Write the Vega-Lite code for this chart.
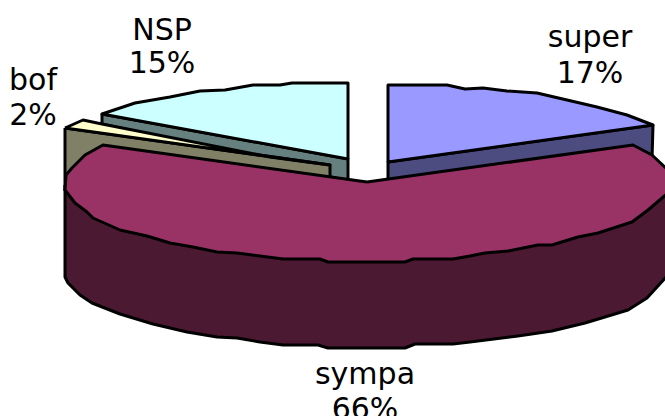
{"$schema":"https://vega.github.io/schema/vega-lite/v6.json","width":665,"height":416,"padding":0,"autosize":{"type":"none"},"background":"white","config":{"view":{"stroke":null}},
"datasets":{"shapes":[
{"part":"NSP side","i":1,"x":102,"y":114},{"part":"NSP side","i":2,"x":348,"y":159},{"part":"NSP side","i":3,"x":348,"y":181},{"part":"NSP side","i":4,"x":102,"y":124},{"part":"NSP side","i":5,"x":102,"y":114},
{"part":"NSP top","i":1,"x":348,"y":159},{"part":"NSP top","i":2,"x":348,"y":83},{"part":"NSP top","i":3,"x":292,"y":83},{"part":"NSP top","i":4,"x":280,"y":85},{"part":"NSP top","i":5,"x":253,"y":85},{"part":"NSP top","i":6,"x":225,"y":90},{"part":"NSP top","i":7,"x":200,"y":91},{"part":"NSP top","i":8,"x":170,"y":97},{"part":"NSP top","i":9,"x":135,"y":103},{"part":"NSP top","i":10,"x":102,"y":114},{"part":"NSP top","i":11,"x":348,"y":159},
{"part":"bof side","i":1,"x":65,"y":128},{"part":"bof side","i":2,"x":330,"y":165},{"part":"bof side","i":3,"x":330,"y":178},{"part":"bof side","i":4,"x":103,"y":146},{"part":"bof side","i":5,"x":65,"y":190},{"part":"bof side","i":6,"x":65,"y":128},
{"part":"bof top","i":1,"x":65,"y":128},{"part":"bof top","i":2,"x":83,"y":120},{"part":"bof top","i":3,"x":102,"y":124},{"part":"bof top","i":4,"x":270,"y":157},{"part":"bof top","i":5,"x":330,"y":165},{"part":"bof top","i":6,"x":65,"y":128},
{"part":"super side","i":1,"x":653,"y":125},{"part":"super side","i":2,"x":652,"y":160},{"part":"super side","i":3,"x":388,"y":180},{"part":"super side","i":4,"x":388,"y":162},{"part":"super side","i":5,"x":653,"y":125},
{"part":"super top","i":1,"x":388,"y":162},{"part":"super top","i":2,"x":388,"y":85},{"part":"super top","i":3,"x":447,"y":85},{"part":"super top","i":4,"x":465,"y":89},{"part":"super top","i":5,"x":483,"y":88},{"part":"super top","i":6,"x":507,"y":91},{"part":"super top","i":7,"x":537,"y":93},{"part":"super top","i":8,"x":567,"y":100},{"part":"super top","i":9,"x":597,"y":107},{"part":"super top","i":10,"x":627,"y":115},{"part":"super top","i":11,"x":653,"y":125},{"part":"super top","i":12,"x":388,"y":162},
{"part":"sympa side","i":1,"x":65,"y":185},{"part":"sympa side","i":2,"x":65,"y":277},{"part":"sympa side","i":3,"x":68,"y":283},{"part":"sympa side","i":4,"x":80,"y":295},{"part":"sympa side","i":5,"x":92,"y":303},{"part":"sympa side","i":6,"x":120,"y":314},{"part":"sympa side","i":7,"x":153,"y":324},{"part":"sympa side","i":8,"x":187,"y":332},{"part":"sympa side","i":9,"x":217,"y":337},{"part":"sympa side","i":10,"x":237,"y":338},{"part":"sympa side","i":11,"x":260,"y":342},{"part":"sympa side","i":12,"x":283,"y":345},{"part":"sympa side","i":13,"x":318,"y":345},{"part":"sympa side","i":14,"x":328,"y":348},{"part":"sympa side","i":15,"x":405,"y":348},{"part":"sympa side","i":16,"x":415,"y":344},{"part":"sympa side","i":17,"x":453,"y":344},{"part":"sympa side","i":18,"x":470,"y":342},{"part":"sympa side","i":19,"x":518,"y":336},{"part":"sympa side","i":20,"x":552,"y":331},{"part":"sympa side","i":21,"x":585,"y":323},{"part":"sympa side","i":22,"x":628,"y":310},{"part":"sympa side","i":23,"x":647,"y":298},{"part":"sympa side","i":24,"x":668,"y":275},{"part":"sympa side","i":25,"x":668,"y":190},{"part":"sympa side","i":26,"x":65,"y":185},
{"part":"sympa top","i":1,"x":367,"y":182},{"part":"sympa top","i":2,"x":103,"y":145},{"part":"sympa top","i":3,"x":85,"y":155},{"part":"sympa top","i":4,"x":72,"y":168},{"part":"sympa top","i":5,"x":66,"y":175},{"part":"sympa top","i":6,"x":65,"y":190},{"part":"sympa top","i":7,"x":75,"y":203},{"part":"sympa top","i":8,"x":87,"y":212},{"part":"sympa top","i":9,"x":93,"y":218},{"part":"sympa top","i":10,"x":120,"y":230},{"part":"sympa top","i":11,"x":147,"y":236},{"part":"sympa top","i":12,"x":170,"y":243},{"part":"sympa top","i":13,"x":193,"y":247},{"part":"sympa top","i":14,"x":217,"y":252},{"part":"sympa top","i":15,"x":237,"y":253},{"part":"sympa top","i":16,"x":260,"y":256},{"part":"sympa top","i":17,"x":283,"y":259},{"part":"sympa top","i":18,"x":320,"y":259},{"part":"sympa top","i":19,"x":328,"y":262},{"part":"sympa top","i":20,"x":405,"y":262},{"part":"sympa top","i":21,"x":413,"y":259},{"part":"sympa top","i":22,"x":453,"y":259},{"part":"sympa top","i":23,"x":470,"y":256},{"part":"sympa top","i":24,"x":485,"y":253},{"part":"sympa top","i":25,"x":508,"y":251},{"part":"sympa top","i":26,"x":538,"y":245},{"part":"sympa top","i":27,"x":552,"y":245},{"part":"sympa top","i":28,"x":578,"y":237},{"part":"sympa top","i":29,"x":598,"y":233},{"part":"sympa top","i":30,"x":632,"y":222},{"part":"sympa top","i":31,"x":648,"y":210},{"part":"sympa top","i":32,"x":668,"y":193},{"part":"sympa top","i":33,"x":668,"y":170},{"part":"sympa top","i":34,"x":652,"y":155},{"part":"sympa top","i":35,"x":633,"y":145},{"part":"sympa top","i":36,"x":367,"y":182}
],"labels":[
{"t":"super","x":590,"y":47},{"t":"17%","x":590,"y":83},
{"t":"NSP","x":162,"y":40},{"t":"15%","x":162,"y":73},
{"t":"bof","x":33,"y":90},{"t":"2%","x":33,"y":125},
{"t":"sympa","x":365,"y":384},{"t":"66%","x":365,"y":419}
]},
"layer":[
{"data":{"name":"shapes"},"mark":{"type":"line","strokeWidth":3,"stroke":"black","strokeJoin":"round","clip":true},
"encoding":{"x":{"field":"x","type":"quantitative","scale":{"domain":[0,665]},"axis":null},"y":{"field":"y","type":"quantitative","scale":{"domain":[416,0]},"axis":null},"order":{"field":"i","type":"quantitative"},"detail":{"field":"part"},
"fill":{"field":"part","type":"nominal","legend":null,"scale":{"domain":["NSP side","NSP top","bof side","bof top","super side","super top","sympa side","sympa top"],"range":["#668080","#CCFFFF","#808066","#FFFFCC","#4C4C80","#9999FF","#4C1933","#993366"]}}}},
{"data":{"name":"labels"},"mark":{"type":"text","font":"DejaVu Sans","fontSize":30,"align":"center","baseline":"alphabetic","color":"black"},
"encoding":{"x":{"field":"x","type":"quantitative","scale":{"domain":[0,665]},"axis":null},"y":{"field":"y","type":"quantitative","scale":{"domain":[416,0]},"axis":null},"text":{"field":"t","type":"nominal"}}}
]}
